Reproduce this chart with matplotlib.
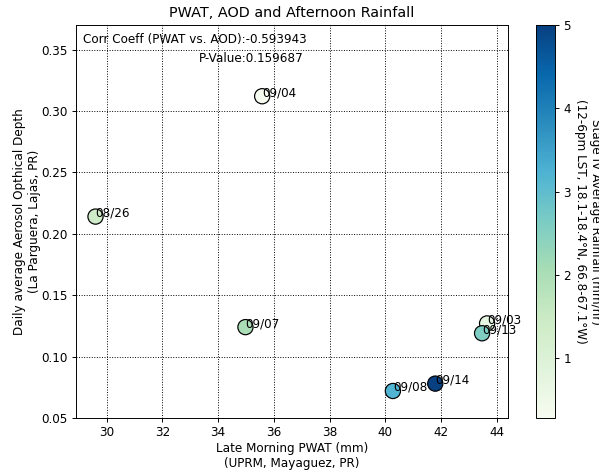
import numpy as np
import matplotlib
matplotlib.use('Agg')
import matplotlib.pyplot as plt

# data
dates = ['08/26', '09/03', '09/04', '09/07', '09/08', '09/13', '09/14']
pwat = [29.6, 43.65, 35.58, 34.98, 40.27, 43.47, 41.79]
aod = [0.214, 0.127, 0.312, 0.124, 0.072, 0.119, 0.078]
rain = [1.4, 0.7, 0.28, 2.0, 3.2, 2.6, 5.0]

corr_txt = 'Corr Coeff (PWAT vs. AOD):-0.593943'
pval_txt = 'P-Value:0.159687'

DPI = 86.5
fig = plt.figure(figsize=(599/DPI, 471/DPI), dpi=DPI)
ax = fig.add_axes([76/599, 53/471, 432/599, 393/471])
cax = fig.add_axes([536/599, 53/471, 19/599, 393/471])

sc = ax.scatter(pwat, aod, c=rain, cmap='GnBu', s=160, edgecolors='black',
                linewidths=1, vmin=min(rain), vmax=max(rain), zorder=3)
for d, x, y in zip(dates, pwat, aod):
    ax.annotate(d, (x, y), fontsize=10, zorder=4)

ax.set_xlim(28.9, 44.4)
ax.set_ylim(0.05, 0.37)
ax.set_xticks(np.arange(30, 45, 2))
ax.grid(True, linestyle=':', color='black', linewidth=0.8)
ax.set_axisbelow(True)

ax.text(0.016, 0.962, corr_txt, transform=ax.transAxes, fontsize=10, va='center')
ax.text(0.285, 0.916, pval_txt, transform=ax.transAxes, fontsize=10, va='center')

ax.set_title('PWAT, AOD and Afternoon Rainfall', fontsize=12, pad=7)
ax.set_xlabel('Late Morning PWAT (mm)\n(UPRM, Mayaguez, PR)', labelpad=2.5)
ax.set_ylabel('Daily average Aerosol Opthical Depth\n(La Parguera, Lajas, PR)', labelpad=0.5)

cb = fig.colorbar(sc, cax=cax)
cb.set_ticks([1, 2, 3, 4, 5])
cb.set_label('Stage IV Average Rainfall (mm/hr)\n(12-6pm LST, 18.1-18.4°N, 66.8-67.1°W)',
             rotation=270, labelpad=26)

fig.savefig('out.png', dpi=DPI)
